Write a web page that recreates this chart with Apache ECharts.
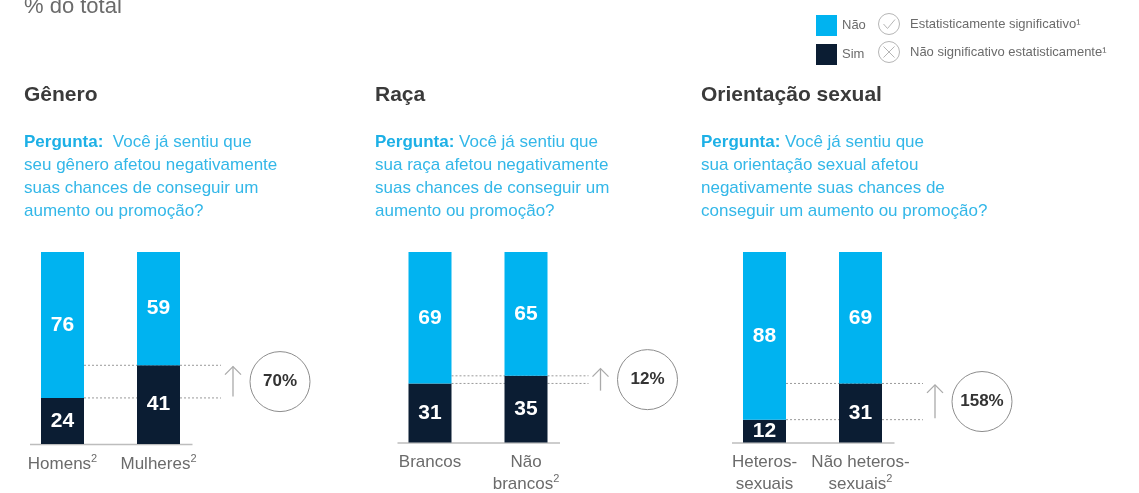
<!DOCTYPE html>
<html>
<head>
<meta charset="UTF-8">
<title>Pergunta: percepção de impacto</title>
<script src="https://cdn.jsdelivr.net/npm/echarts@6/dist/echarts.min.js"></script>
<style>body{margin:0;background:#fff;}</style>
</head>
<body>
<div id="chart" style="width:1139px;height:493px;"></div>
<script type="text/javascript">
// data
var groupTitles = ['Gênero', 'Raça', 'Orientação sexual'];
var questionLines = [
    ['Você já sentiu que', 'seu gênero afetou negativamente', 'suas chances de conseguir um', 'aumento ou promoção?'],
    ['Você já sentiu que', 'sua raça afetou negativamente', 'suas chances de conseguir um', 'aumento ou promoção?'],
    ['Você já sentiu que', 'sua orientação sexual afetou', 'negativamente suas chances de', 'conseguir um aumento ou promoção?']
];
var categories = [
    ['Homens²', 'Mulheres²'],
    ['Brancos', 'Não\nbrancos²'],
    ['Heteros-\nsexuais', 'Não heteros-\nsexuais²']
];
var simValues = [[24, 41], [31, 35], [12, 31]];
var naoValues = [[76, 59], [69, 65], [88, 69]];
var changeLabels = ['70%', '12%', '158%'];

var BLUE = '#00b3f0';
var NAVY = '#0b1d33';
var FONT = '"Liberation Sans", Arial, sans-serif';

var myChart = echarts.init(document.getElementById('chart'));

// where each panel starts (first bar centre) and where its text block starts
var barCentre = [62.5, 430, 764.5];
var textLeft = [24, 375, 701];

function catFormatter(value) {
    return value.split('\n').map(function (line) {
        return line.replace(/([^²]+)/g, '{t|$1}').replace(/²/g, '{s|2}');
    }).join('\n');
}

// dotted guide lines, arrow and circle are drawn from the two "Sim" values
function makeCompare(idx) {
    return function (params, api) {
        var a = api.value(1), b = api.value(2);
        var base0 = api.coord([0, 0]);
        var base1 = api.coord([1, 0]);
        var ya = api.coord([0, a])[1];
        var yb = api.coord([1, b])[1];
        var yTop = Math.min(ya, yb), yBot = Math.max(ya, yb);
        var half = 21.5;
        var xs = base0[0] + half;
        var xe = base1[0] + half + 41;
        var ax = base1[0] + half + 53;
        var cx = base1[0] + half + 100;
        var cy = (yTop + yBot) / 2;
        var len = Math.max((yBot - yTop) * 0.92, 22);
        var dot = { stroke: '#9a9a9a', lineWidth: 1, lineDash: [2, 2] };
        return {
            type: 'group',
            children: [
                { type: 'line', shape: { x1: base0[0] - 32.5, y1: base0[1] + 0.5, x2: base1[0] + 34, y2: base0[1] + 0.5 }, style: { stroke: '#bdbdbd', lineWidth: 1.3 } },
                { type: 'line', shape: { x1: xs, y1: ya, x2: xe, y2: ya }, style: dot },
                { type: 'line', shape: { x1: xs, y1: yb, x2: xe, y2: yb }, style: dot },
                { type: 'line', shape: { x1: ax, y1: cy + len / 2, x2: ax, y2: cy - len / 2 }, style: { stroke: '#aaaaaa', lineWidth: 1.3 } },
                { type: 'polyline', shape: { points: [[ax - 8, cy - len / 2 + 8], [ax, cy - len / 2], [ax + 8, cy - len / 2 + 8]] }, style: { stroke: '#aaaaaa', lineWidth: 1.3, fill: null } },
                { type: 'circle', shape: { cx: cx, cy: cy, r: 30 }, style: { fill: '#fff', stroke: '#8c8c8c', lineWidth: 1 } },
                { type: 'text', style: { text: changeLabels[idx], x: cx, y: cy, textAlign: 'center', textVerticalAlign: 'middle', fill: '#333', font: 'bold 17px ' + FONT } }
            ]
        };
    };
}

var grids = [], xAxes = [], yAxes = [], series = [], graphics = [];

for (var i = 0; i < 3; i++) {
    grids.push({ left: barCentre[i] - 48, top: 252, width: 192, height: 192 });
    xAxes.push({
        type: 'category', gridIndex: i, data: categories[i],
        axisLine: { show: false }, axisTick: { show: false },
        axisLabel: {
            margin: 9, interval: 0, formatter: catFormatter,
            rich: {
                t: { fontFamily: FONT, fontSize: 17, color: '#6b6b6b', lineHeight: 22 },
                s: { fontFamily: FONT, fontSize: 11, color: '#6b6b6b', lineHeight: 22, verticalAlign: 'top', padding: [0, 0, 6, 0] }
            }
        }
    });
    yAxes.push({ type: 'value', gridIndex: i, min: 0, max: 100, show: false });

    series.push({
        name: 'Sim', type: 'bar', stack: 'g' + i, xAxisIndex: i, yAxisIndex: i,
        data: simValues[i], barWidth: 43, itemStyle: { color: NAVY }, z: 3,
        label: { show: true, position: 'inside', color: '#fff', fontFamily: FONT, fontSize: 21, fontWeight: 'bold' }
    });
    series.push({
        name: 'Não', type: 'bar', stack: 'g' + i, xAxisIndex: i, yAxisIndex: i,
        data: naoValues[i], barWidth: 43, itemStyle: { color: BLUE }, z: 3,
        label: { show: true, position: 'inside', color: '#fff', fontFamily: FONT, fontSize: 21, fontWeight: 'bold' }
    });
    series.push({
        type: 'custom', xAxisIndex: i, yAxisIndex: i, silent: true, z: 1,
        encode: { x: 0, y: 1 },
        data: [[0, simValues[i][0], simValues[i][1]]],
        renderItem: makeCompare(i)
    });

    graphics.push({
        type: 'text', left: textLeft[i], top: 85,
        style: { text: groupTitles[i], fill: '#3a3a3a', font: 'bold 21px ' + FONT }
    });
    var q = questionLines[i];
    var qText = '{b|Pergunta:}{q| ' + (i === 0 ? ' ' : '') + q[0] + '}\n' +
        q.slice(1).map(function (l) { return '{q|' + l + '}'; }).join('\n');
    graphics.push({
        type: 'text', left: textLeft[i], top: 134,
        style: {
            text: qText,
            rich: {
                b: { fill: '#1db0e6', fontFamily: FONT, fontSize: 17, fontWeight: 'bold', lineHeight: 23 },
                q: { fill: '#33b7e8', fontFamily: FONT, fontSize: 17, lineHeight: 23 }
            }
        }
    });
}

// heading and significance key
graphics.push({ type: 'text', left: 24, top: -4, style: { text: '% do total', fill: '#6b6b6b', font: '22px ' + FONT } });
graphics.push({ type: 'circle', shape: { cx: 889, cy: 24, r: 10.5 }, style: { fill: null, stroke: '#b5b5b5', lineWidth: 1 } });
graphics.push({ type: 'polyline', shape: { points: [[883.5, 24], [887.5, 28.5], [895, 19.5]] }, style: { fill: null, stroke: '#b5b5b5', lineWidth: 1 } });
graphics.push({ type: 'circle', shape: { cx: 889, cy: 52, r: 10.5 }, style: { fill: null, stroke: '#b5b5b5', lineWidth: 1 } });
graphics.push({ type: 'line', shape: { x1: 883.5, y1: 46.5, x2: 894.5, y2: 57.5 }, style: { stroke: '#b5b5b5', lineWidth: 1 } });
graphics.push({ type: 'line', shape: { x1: 894.5, y1: 46.5, x2: 883.5, y2: 57.5 }, style: { stroke: '#b5b5b5', lineWidth: 1 } });
graphics.push({ type: 'text', left: 910, top: 18, style: { text: 'Estatisticamente significativo¹', fill: '#6b6b6b', font: '13px ' + FONT } });
graphics.push({ type: 'text', left: 910, top: 46, style: { text: 'Não significativo estatisticamente¹', fill: '#6b6b6b', font: '13px ' + FONT } });

var option = {
    animation: false,
    legend: {
        data: ['Não', 'Sim'], orient: 'vertical', left: 811, top: 10,
        itemWidth: 21, itemHeight: 21, itemGap: 8, icon: 'rect', selectedMode: false,
        textStyle: { color: '#6b6b6b', fontSize: 13, fontFamily: FONT, padding: [4, 0, 0, 0] }
    },
    grid: grids,
    xAxis: xAxes,
    yAxis: yAxes,
    series: series,
    graphic: graphics
};

myChart.setOption(option);
</script>
</body>
</html>
